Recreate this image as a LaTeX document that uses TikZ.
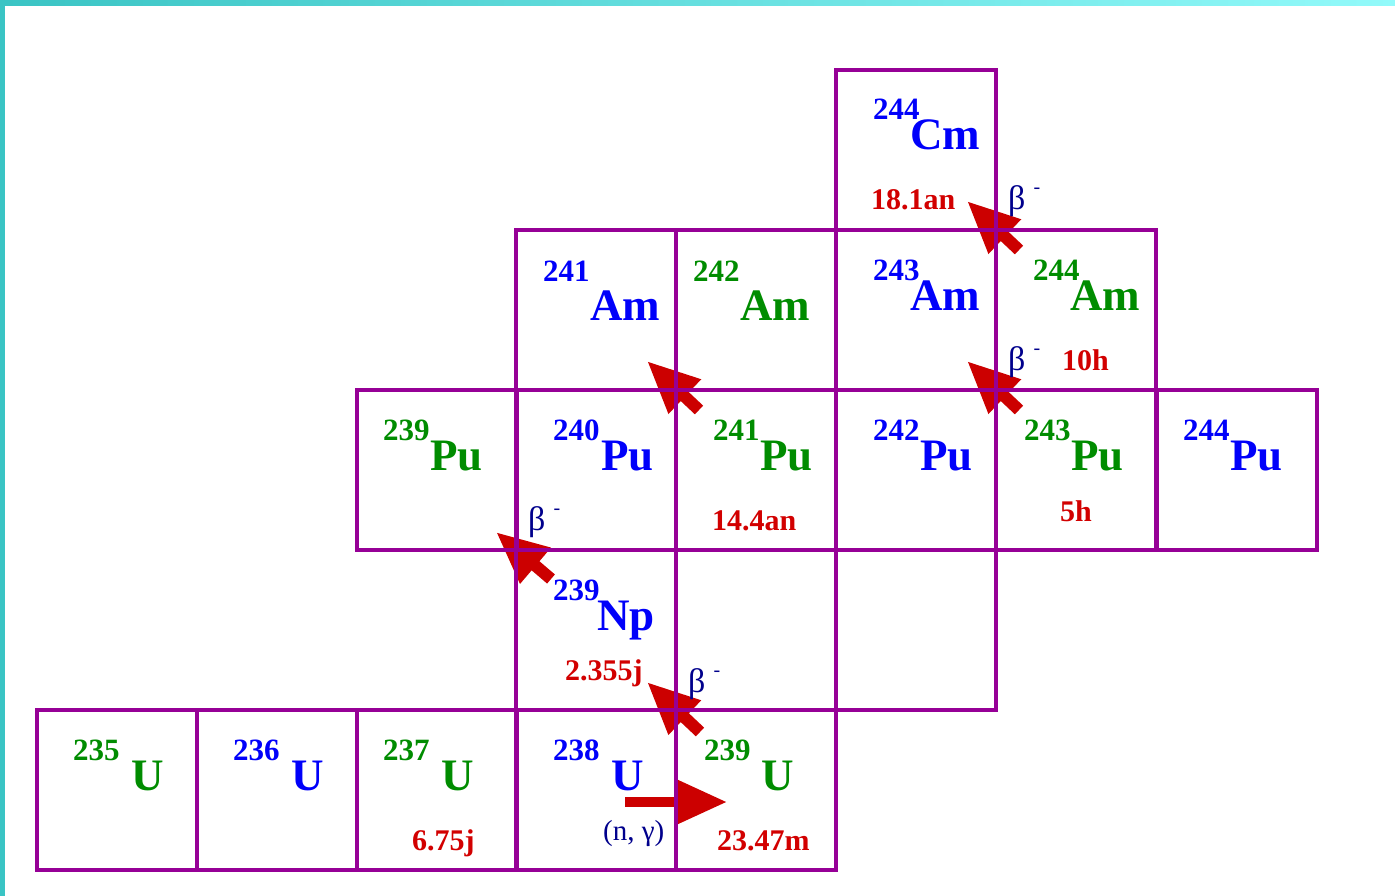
\documentclass[tikz,border=0pt]{standalone}
\usepackage{fontspec}
\setmainfont{Liberation Serif}
\usetikzlibrary{arrows.meta,backgrounds}
\definecolor{cellpurple}{RGB}{150,0,150}
\definecolor{isoblue}{RGB}{0,0,250}
\definecolor{isogreen}{RGB}{0,140,0}
\definecolor{halfred}{RGB}{210,0,0}
\definecolor{betanavy}{RGB}{0,0,140}
\definecolor{arrowred}{RGB}{204,0,0}
\definecolor{bandleft}{RGB}{58,196,196}
\definecolor{bandright}{RGB}{146,250,250}
\tikzset{
  isocell/.style={draw=cellpurple, line width=4pt, minimum width=160pt, minimum height=160pt, inner sep=0pt, outer sep=0pt},
  massno/.style={anchor=base west, inner sep=0pt, font=\fontsize{31}{31}\selectfont\bfseries},
  elemsym/.style={anchor=base west, inner sep=0pt, font=\fontsize{45}{45}\selectfont\bfseries},
  halflife/.style={anchor=base west, inner sep=0pt, text=halfred, font=\fontsize{30}{30}\selectfont\bfseries},
  betalabel/.style={anchor=base west, inner sep=0pt, text=betanavy, font=\fontsize{34}{34}\selectfont},
  decayarrow/.style={draw=arrowred, line width=12pt, -{Triangle[length=52pt,width=44pt]}},
}
\newcommand{\betaminus}{β\hspace{8pt}\raisebox{16pt}{\fontsize{20}{20}\selectfont -}}
\begin{document}
\begin{tikzpicture}[x=1pt,y=-1pt]
\useasboundingbox (0,0) rectangle (1395,896);
% frame bands
\shade[left color=bandleft, right color=bandright] (0,0) rectangle (1395,6);
\fill[bandleft] (0,0) rectangle (5,896);
% cells
\node[isocell] (cm244) at (916,150) {};
\node[isocell] (am241) at (596,310) {};
\node[isocell] (am242) at (756,310) {};
\node[isocell] (am243) at (916,310) {};
\node[isocell] (am244) at (1076,310) {};
\node[isocell] (pu239) at (437,470) {};
\node[isocell] (pu240) at (596,470) {};
\node[isocell] (pu241) at (756,470) {};
\node[isocell] (pu242) at (916,470) {};
\node[isocell] (pu243) at (1076,470) {};
\node[isocell] (pu244) at (1237,470) {};
\node[isocell] (np239) at (596,630) {};
\node[isocell] (ea) at (756,630) {};
\node[isocell] (eb) at (916,630) {};
\node[isocell] (u235) at (117,790) {};
\node[isocell] (u236) at (277,790) {};
\node[isocell] (u237) at (437,790) {};
\node[isocell] (u238) at (596,790) {};
\node[isocell] (u239) at (756,790) {};
% arrows (under cell borders)
\begin{scope}[on background layer]
\draw[decayarrow, line width=10pt] ([shift={(-51,12)}]u238.east) -- ([shift={(51,12)}]u238.east);
\draw[decayarrow] ([shift={(24,22)}]u239.north west) -- ([shift={(-29,-28)}]u239.north west);
\draw[decayarrow] ([shift={(35,29)}]np239.north west) -- ([shift={(-20,-18)}]np239.north west);
\draw[decayarrow] ([shift={(23,20)}]pu241.north west) -- ([shift={(-29,-29)}]pu241.north west);
\draw[decayarrow] ([shift={(23,20)}]pu243.north west) -- ([shift={(-29,-29)}]pu243.north west);
\draw[decayarrow] ([shift={(23,20)}]am244.north west) -- ([shift={(-29,-29)}]am244.north west);
\end{scope}
% labels: Cm
\node[massno, text=isoblue] (m-cm244) at (873,120) {244};
\node[elemsym, text=isoblue] (s-cm244) at (910,150) {Cm};
\node[halflife] (h-cm244) at (871,210) {18.1an};
\node[betalabel] (b-am244) at (1008,210) {\betaminus};
% Am
\node[massno, text=isoblue] (m-am241) at (543,281) {241};
\node[elemsym, text=isoblue] (s-am241) at (590,320) {Am};
\node[massno, text=isogreen] (m-am242) at (693,281) {242};
\node[elemsym, text=isogreen] (s-am242) at (740,320) {Am};
\node[massno, text=isoblue] (m-am243) at (873,280) {243};
\node[elemsym, text=isoblue] (s-am243) at (910,310) {Am};
\node[massno, text=isogreen] (m-am244) at (1033,280) {244};
\node[elemsym, text=isogreen] (s-am244) at (1070,310) {Am};
\node[betalabel] (b-pu243) at (1008,370) {\betaminus};
\node[halflife] (h-am244) at (1062,370) {10h};
% Pu
\node[massno, text=isogreen] (m-pu239) at (383,440) {239};
\node[elemsym, text=isogreen] (s-pu239) at (430,470) {Pu};
\node[massno, text=isoblue] (m-pu240) at (553,440) {240};
\node[elemsym, text=isoblue] (s-pu240) at (601,470) {Pu};
\node[massno, text=isogreen] (m-pu241) at (713,440) {241};
\node[elemsym, text=isogreen] (s-pu241) at (760,470) {Pu};
\node[halflife] (h-pu241) at (712,530) {14.4an};
\node[massno, text=isoblue] (m-pu242) at (873,440) {242};
\node[elemsym, text=isoblue] (s-pu242) at (920,470) {Pu};
\node[massno, text=isogreen] (m-pu243) at (1024,440) {243};
\node[elemsym, text=isogreen] (s-pu243) at (1071,470) {Pu};
\node[halflife] (h-pu243) at (1060,521) {5h};
\node[massno, text=isoblue] (m-pu244) at (1183,440) {244};
\node[elemsym, text=isoblue] (s-pu244) at (1230,470) {Pu};
\node[betalabel] (b-np239) at (528,530) {\betaminus};
% Np
\node[massno, text=isoblue] (m-np239) at (553,600) {239};
\node[elemsym, text=isoblue] (s-np239) at (597,630) {Np};
\node[halflife] (h-np239) at (565,680) {2.355j};
\node[betalabel] (b-u239) at (688,692) {\betaminus};
% U
\node[massno, text=isogreen] (m-u235) at (73,760) {235};
\node[elemsym, text=isogreen] (s-u235) at (131,790) {U};
\node[massno, text=isoblue] (m-u236) at (233,760) {236};
\node[elemsym, text=isoblue] (s-u236) at (291,790) {U};
\node[massno, text=isogreen] (m-u237) at (383,760) {237};
\node[elemsym, text=isogreen] (s-u237) at (441,790) {U};
\node[halflife] (h-u237) at (412,850) {6.75j};
\node[massno, text=isoblue] (m-u238) at (553,760) {238};
\node[elemsym, text=isoblue] (s-u238) at (611,790) {U};
\node[betalabel, font=\fontsize{29}{29}\selectfont] (ng-u238) at (603,840) {(n, γ)};
\node[massno, text=isogreen] (m-u239) at (704,760) {239};
\node[elemsym, text=isogreen] (s-u239) at (761,790) {U};
\node[halflife] (h-u239) at (717,850) {23.47m};
\end{tikzpicture}
\end{document}
